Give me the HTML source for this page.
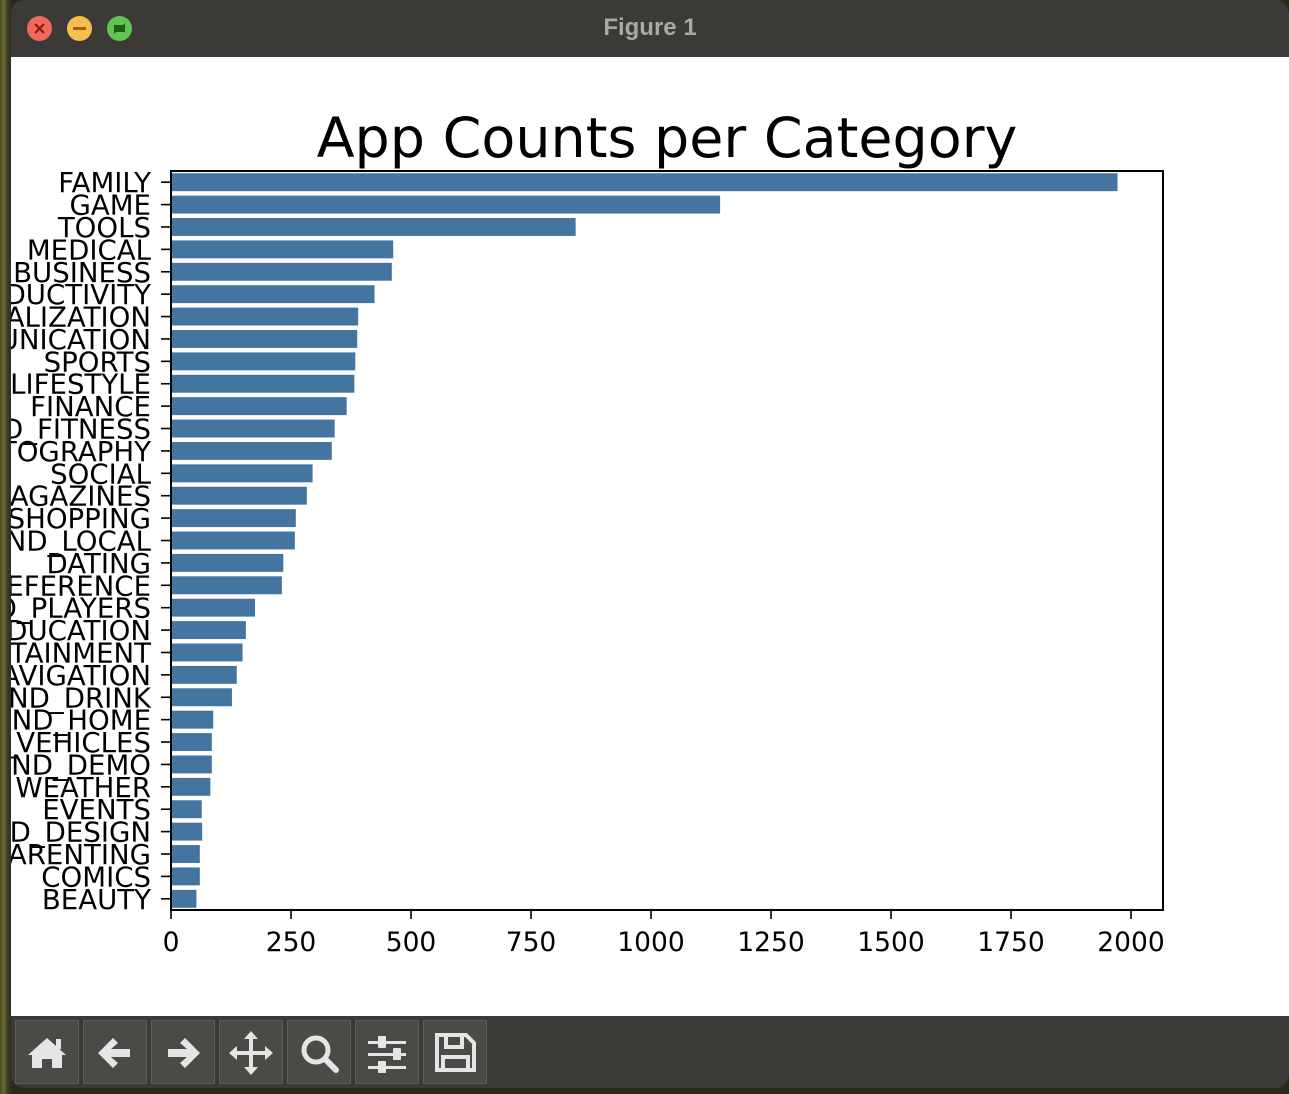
<!DOCTYPE html>
<html><head><meta charset="utf-8"><style>
html,body{margin:0;padding:0;width:1289px;height:1094px;overflow:hidden;background:#3d3a1e;}
#bg{position:absolute;left:0;top:0;width:1289px;height:1094px;background:linear-gradient(90deg,#4a4a25,#6b6a35 4px,#3b3a20 8px,#2a2a18 12px);}
#win{position:absolute;left:11px;top:0;width:1278px;height:1088px;background:#3b3a36;border-radius:14px 14px 14px 14px;overflow:hidden;}
#title{position:absolute;left:0;top:0;width:1278px;height:56px;text-align:center;color:#a9a8a4;font:bold 24px "Liberation Sans",sans-serif;line-height:56px;}
.tl{position:absolute;top:16px;width:25px;height:25px;border-radius:50%;}
#content{position:absolute;left:0;top:57px;width:1278px;height:959px;background:#fff;}
#toolbar{position:absolute;left:0;top:1016px;width:1278px;height:72px;background:#3b3a36;}
.btn{position:absolute;top:4px;width:62px;height:62px;background:#4b4a46;border:1px solid #5e5d59;}
</style></head><body>
<div id="bg"></div>
<div id="win">
 <div id="title">Figure 1</div>
 <div class="tl" style="left:16px;background:#ee6a5f"><svg width="25" height="25"><path d="M8 8L17 17M17 8L8 17" stroke="#8c1a12" stroke-width="2.2"/></svg></div>
 <div class="tl" style="left:56px;background:#f5be4f"><svg width="25" height="25"><path d="M6 12.5H19" stroke="#9a6211" stroke-width="3"/></svg></div>
 <div class="tl" style="left:96px;background:#61c454"><svg width="25" height="25"><path d="M7 18V9L16 9ZM18 7V16L9 16Z" fill="#1d5f17"/></svg></div>
 <div id="content">
  <svg id="chart" width="1278" height="959"></svg>
 </div>
 <div id="toolbar">
  <div class="btn" style="left:4px"><svg width="62" height="62"><path d="M12 34L31 17L50 34L46 34L46 47L36 47L36 38L26 38L26 47L16 47L16 34Z" fill="#e5e5e5"/><rect x="40" y="18" width="5" height="10" fill="#e5e5e5"/></svg></div>
  <div class="btn" style="left:72px"><svg width="62" height="62"><path d="M14 32L29 17L34 22L27 28L46 28L46 36L27 36L34 42L29 47Z" fill="#e5e5e5"/></svg></div>
  <div class="btn" style="left:140px"><svg width="62" height="62"><path d="M48 32L33 17L28 22L35 28L16 28L16 36L35 36L28 42L33 47Z" fill="#e5e5e5"/></svg></div>
  <div class="btn" style="left:208px"><svg width="62" height="62"><path d="M31 10L38 18L33 18L33 30L45 30L45 25L53 32L45 39L45 34L33 34L33 46L38 46L31 54L24 46L29 46L29 34L17 34L17 39L9 32L17 25L17 30L29 30L29 18L24 18Z" fill="#e5e5e5"/></svg></div>
  <div class="btn" style="left:276px"><svg width="62" height="62"><circle cx="28" cy="29" r="12" fill="none" stroke="#e5e5e5" stroke-width="5"/><path d="M37 38L48 49" stroke="#e5e5e5" stroke-width="6" stroke-linecap="round"/></svg></div>
  <div class="btn" style="left:344px"><svg width="62" height="62"><g fill="#e5e5e5"><rect x="12" y="20" width="38" height="3"/><rect x="12" y="32" width="38" height="3"/><rect x="12" y="45" width="38" height="3"/><rect x="22" y="15" width="8" height="12" rx="1"/><rect x="37" y="27" width="8" height="12" rx="1"/><rect x="22" y="40" width="8" height="12" rx="1"/></g></svg></div>
  <div class="btn" style="left:412px"><svg width="62" height="62"><path d="M13 14H42L50 22V49H13Z" fill="none" stroke="#e5e5e5" stroke-width="4"/><rect x="22" y="14" width="16" height="12" fill="none" stroke="#e5e5e5" stroke-width="4"/><rect x="19" y="36" width="25" height="13" fill="none" stroke="#e5e5e5" stroke-width="4"/></svg></div>
 </div>
</div>
<script>
const categories=["FAMILY","GAME","TOOLS","MEDICAL","BUSINESS","PRODUCTIVITY","PERSONALIZATION","COMMUNICATION","SPORTS","LIFESTYLE","FINANCE","HEALTH_AND_FITNESS","PHOTOGRAPHY","SOCIAL","NEWS_AND_MAGAZINES","SHOPPING","TRAVEL_AND_LOCAL","DATING","BOOKS_AND_REFERENCE","VIDEO_PLAYERS","EDUCATION","ENTERTAINMENT","MAPS_AND_NAVIGATION","FOOD_AND_DRINK","HOUSE_AND_HOME","AUTO_AND_VEHICLES","LIBRARIES_AND_DEMO","WEATHER","EVENTS","ART_AND_DESIGN","PARENTING","COMICS","BEAUTY"];
const counts=[1972,1144,843,463,460,424,390,388,384,382,366,341,335,295,283,260,258,234,231,175,156,149,137,127,88,85,85,82,64,65,60,60,53];
const xTicks=[0,250,500,750,1000,1250,1500,1750,2000];
const NS="http://www.w3.org/2000/svg";
const svg=document.getElementById('chart');
const L=171-11,R=1163-11,T=171-57,B=910-57;
const xScale=v=>L+v*0.48;
const band=(B-T)/categories.length;
const yScale=i=>T+i*band;
function mk(tag,attrs){const e=document.createElementNS(NS,tag);for(const k in attrs)e.setAttribute(k,attrs[k]);svg.appendChild(e);return e;}
const font='"DejaVu Sans","Liberation Sans",sans-serif';
const title=mk('text',{x:(L+R)/2,y:T-14,'text-anchor':'middle','font-size':55.5,'font-family':font,fill:'#000'});
title.textContent='App Counts per Category';


categories.forEach((c,i)=>{
 const y0=yScale(i);
 const r=mk('rect',{x:L,y:y0+band*0.1,width:xScale(counts[i])-L,height:band*0.8,fill:'#4375a0'});
 
 
 const yc=y0+band/2;
 mk('line',{x1:L-10,x2:L,y1:yc,y2:yc,stroke:'#000','stroke-width':1.6});
 const t=mk('text',{x:L-20,y:yc+10,'text-anchor':'end','font-size':27.6,'font-family':font,fill:'#000'});
 t.textContent=c;
 
 
});
xTicks.forEach(v=>{
 const x=xScale(v);
 mk('line',{x1:x,x2:x,y1:B,y2:B+9,stroke:'#000','stroke-width':1.6});
 const t=mk('text',{x:x,y:B+41,'text-anchor':'middle','font-size':26.5,'font-family':font,fill:'#000'});
 t.textContent=v;
 
 
});
const fr=mk('rect',{x:L,y:T,width:R-L,height:B-T,fill:'none',stroke:'#000','stroke-width':2});


</script>
</body></html>
